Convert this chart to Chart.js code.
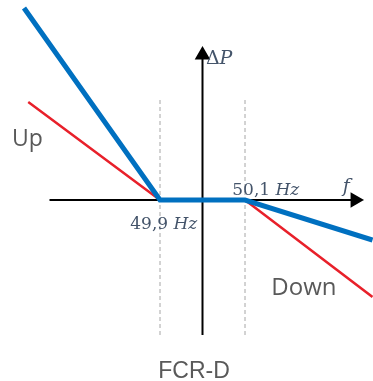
<!DOCTYPE html>
<html>
<head>
<meta charset="utf-8">
<script src="https://cdn.jsdelivr.net/npm/chart.js@4.4.1/dist/chart.umd.min.js"></script>
<style>
  body { margin: 0; background: #fff; }
</style>
</head>
<body>
<canvas id="fcr_chart" width="373" height="381"></canvas>
<script>
// frequency in Hz on x, deltaP (arbitrary units) on y
var deadband = [49.9, 50.1]
var blue_x = [49.58, 49.9, 50.1, 50.40]
var blue_y = [1.92, 0, 0, -0.40]
var red_x = [49.59, 49.9, 50.1, 50.40]
var red_y = [0.98, 0, 0, -0.97]
var xaxis_x = [49.64, 50.359]
var yaxis_y = [-1.35, 1.45]
var dash_y = [-1.35, 1.03]

// label text + anchor in data units
var labels = [
    { text: 'ΔP', x: 50.008, y: 1.36, font: 'math', size: 19 },
    { text: 'f', x: 50.33, y: 0.08, font: 'math', size: 19 },
    { text: '50,1 Hz', x: 50.07, y: 0.05, font: 'math', size: 17 },
    { text: '49,9 Hz', x: 49.83, y: -0.29, font: 'math', size: 17 },
    { text: 'Up', x: 49.552, y: 0.54, font: 'sans', size: 23 },
    { text: 'Down', x: 50.162, y: -0.95, font: 'sans', size: 24 },
    { text: 'FCR-D', x: 49.896, y: -1.78, font: 'arial', size: 23 }
]

function pts(xs, ys) {
    return xs.map((x, i) => ({ x: x, y: ys[i] }))
}

var labelPlugin = {
    id: 'labelPlugin',
    afterDatasetsDraw(chart) {
        const ctx = chart.ctx
        const sx = chart.scales.x
        const sy = chart.scales.y
        ctx.save()
        ctx.textBaseline = 'alphabetic'
        ctx.textAlign = 'left'
        labels.forEach(l => {
            let px = sx.getPixelForValue(l.x)
            let py = sy.getPixelForValue(l.y)
            if (l.font !== 'math') {
                ctx.fillStyle = '#595959'
                ctx.font = l.size + 'px ' + (l.font === 'arial' ? '"Liberation Sans"' : '"Open Sans"')
                ctx.fillText(l.text, px, py)
                return
            }
            ctx.fillStyle = '#44546A'
            // letters italic, numbers/symbols upright
            let parts = l.text.match(/[A-Za-z]+|[^A-Za-z]+/g)
            parts.forEach(p => {
                let italic = /[A-Za-z]/.test(p)
                ctx.font = (italic ? 'italic ' : '') + l.size + 'px "DejaVu Serif"'
                ctx.fillText(p, px, py)
                px += ctx.measureText(p).width
            })
        })
        ctx.restore()
    }
}

new Chart(document.getElementById('fcr_chart').getContext('2d'), {
    type: 'scatter',
    data: {
        datasets: [
            {
                label: 'Up/Down blue',
                data: pts(blue_x, blue_y),
                showLine: true,
                borderColor: '#0070C0',
                borderWidth: 5,
                pointRadius: 0,
                order: 1
            },
            {
                label: 'Up/Down red',
                data: pts(red_x, red_y),
                showLine: true,
                borderColor: '#E8202A',
                borderWidth: 2.5,
                pointRadius: 0,
                order: 2
            },
            {
                label: 'f axis',
                data: pts(xaxis_x, [0, 0]),
                showLine: true,
                borderColor: '#000',
                borderWidth: 2,
                pointRadius: [0, 7],
                pointStyle: 'triangle',
                rotation: 90,
                pointBackgroundColor: '#000',
                pointBorderColor: '#000',
                order: 3
            },
            {
                label: 'dP axis',
                data: pts([50.0, 50.0], yaxis_y),
                showLine: true,
                borderColor: '#000',
                borderWidth: 2,
                pointRadius: [0, 7],
                pointStyle: 'triangle',
                pointBackgroundColor: '#000',
                pointBorderColor: '#000',
                order: 3
            },
            {
                label: 'db low',
                data: pts([deadband[0], deadband[0]], dash_y),
                showLine: true,
                borderColor: '#A6A6A6',
                borderWidth: 1,
                borderDash: [4, 3],
                pointRadius: 0,
                order: 4
            },
            {
                label: 'db high',
                data: pts([deadband[1], deadband[1]], dash_y),
                showLine: true,
                borderColor: '#A6A6A6',
                borderWidth: 1,
                borderDash: [4, 3],
                pointRadius: 0,
                order: 4
            }
        ]
    },
    options: {
        responsive: false,
        animation: false,
        layout: { padding: 0, autoPadding: false },
        plugins: {
            legend: { display: false },
            tooltip: { enabled: false }
        },
        scales: {
            x: { type: 'linear', display: false, min: 49.9 - 160 / 425, max: 49.9 + 213 / 425 },
            y: { type: 'linear', display: false, min: -1.81, max: 2.0 }
        }
    },
    plugins: [labelPlugin]
})
</script>
</body>
</html>
